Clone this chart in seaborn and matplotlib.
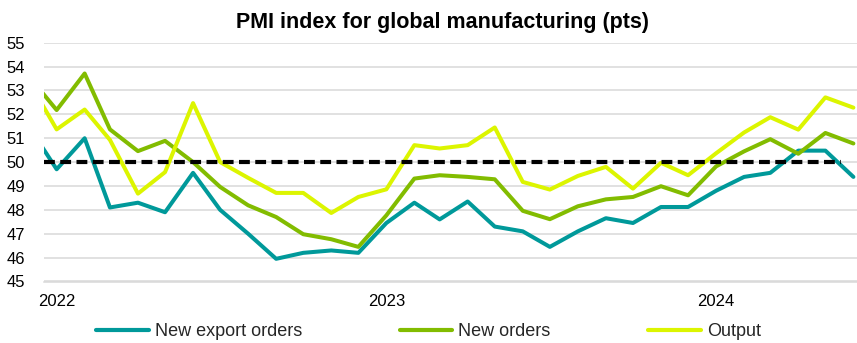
import matplotlib
matplotlib.use("Agg")
import matplotlib.pyplot as plt
import matplotlib.dates as mdates
from matplotlib.lines import Line2D
import seaborn as sns
import pandas as pd
import numpy as np

# ---- data (monthly, Dec 2021 .. Jun 2024; Dec 2021 lies just left of the axis) ----
months = pd.date_range("2021-12-01", "2024-06-01", freq="MS") + pd.Timedelta(days=14)

new_export_orders = [51.5, 49.7, 51.0, 48.1, 48.3, 47.9, 49.55, 48.0, 47.0, 45.95, 46.2, 46.3,
                     46.2, 47.45, 48.3, 47.6, 48.35, 47.3, 47.1, 46.45, 47.1, 47.65, 47.45, 48.12,
                     48.12, 48.8, 49.38, 49.55, 50.48, 50.48, 49.38]
new_orders = [53.6, 52.18, 53.71, 51.37, 50.46, 50.89, 50.0, 48.96, 48.19, 47.70, 46.98, 46.77,
              46.45, 47.77, 49.31, 49.45, 49.38, 49.28, 47.96, 47.61, 48.15, 48.44, 48.54, 48.99,
              48.61, 49.82, 50.45, 50.96, 50.35, 51.22, 50.78]
output = [53.4, 51.37, 52.20, 50.93, 48.68, 49.58, 52.47, 50.0, 49.34, 48.71, 48.71, 47.87,
          48.54, 48.86, 50.71, 50.57, 50.71, 51.45, 49.17, 48.85, 49.42, 49.80, 48.89, 49.97,
          49.45, 50.37, 51.24, 51.88, 51.36, 52.71, 52.28]

series_names = ["New export orders", "New orders", "Output"]
series_colors = ["#00999A", "#82BC00", "#DCF500"]

threshold = 50
threshold_dates = pd.date_range("2022-01-01", "2024-06-01", freq="MS")

year_labels = ["2022", "2023", "2024"]
year_label_dates = pd.to_datetime(["2022-01-15", "2023-01-15", "2024-01-15"])
year_start_dates = pd.to_datetime(["2022-01-01", "2023-01-01", "2024-01-01"])

title = "PMI index for global manufacturing (pts)"

# ---- styling ----
sns.set_theme(style="white")
plt.rcParams["font.family"] = ["Liberation Sans", "DejaVu Sans"]

df = pd.DataFrame({
    "date": np.tile(months, 3),
    "value": new_export_orders + new_orders + output,
    "series": np.repeat(series_names, len(months)),
})

W, H = 857, 343
fig = plt.figure(figsize=(W / 100, H / 100), dpi=100)
left, right, top, bottom = 44, 857, 42.7, 281.5
ax = fig.add_axes([left / W, 1 - bottom / H, (right - left) / W, (bottom - top) / H])

sns.lineplot(data=df, x="date", y="value", hue="series", hue_order=series_names,
             palette=series_colors, linewidth=2.9, estimator=None, sort=False,
             legend=False, ax=ax)

ax.plot(threshold_dates, [threshold] * len(threshold_dates), color="black",
        linewidth=3.0, dashes=(2.6, 1.3), zorder=5)

# y axis
ax.set_ylim(45, 55)
ax.set_yticks(range(45, 56))
ax.tick_params(axis="y", length=0, pad=13.5, labelsize=12, labelcolor="black")
ax.yaxis.grid(True, color="#D9D9D9", linewidth=1.1)
ax.xaxis.grid(False)
ax.set_axisbelow(True)

# x axis
ax.set_xlim(mdates.date2num(pd.Timestamp("2022-01-01")),
            mdates.date2num(pd.Timestamp("2024-06-19")))
ax.set_xticks(mdates.date2num(year_label_dates))
ax.set_xticklabels(year_labels)
ax.set_xticks(mdates.date2num(year_start_dates), minor=True)
ax.tick_params(axis="x", which="major", length=0, pad=9, labelsize=12, labelcolor="black")
ax.tick_params(axis="x", which="minor", length=3.5, width=1.0, color="#D9D9D9", direction="out")
ax.set_xlabel("")
ax.set_ylabel("")

for s in ["left", "right", "top"]:
    ax.spines[s].set_visible(False)
ax.spines["bottom"].set_color("#D9D9D9")
ax.spines["bottom"].set_linewidth(1.1)

# title
fig.text(443 / W, 1 - 28 / H, title, ha="center", va="baseline",
         fontsize=15.5, fontweight="bold", color="black")

# legend
handles = [Line2D([0], [0], color=c, linewidth=3) for c in series_colors]
fig.legend(handles, series_names, loc="center", bbox_to_anchor=(0.5, 1 - 332 / H),
           ncol=3, frameon=False, fontsize=13, handlelength=2.93, handletextpad=0.33,
           columnspacing=5.4, borderpad=0, borderaxespad=0)

fig.savefig("out.png", dpi=100)
